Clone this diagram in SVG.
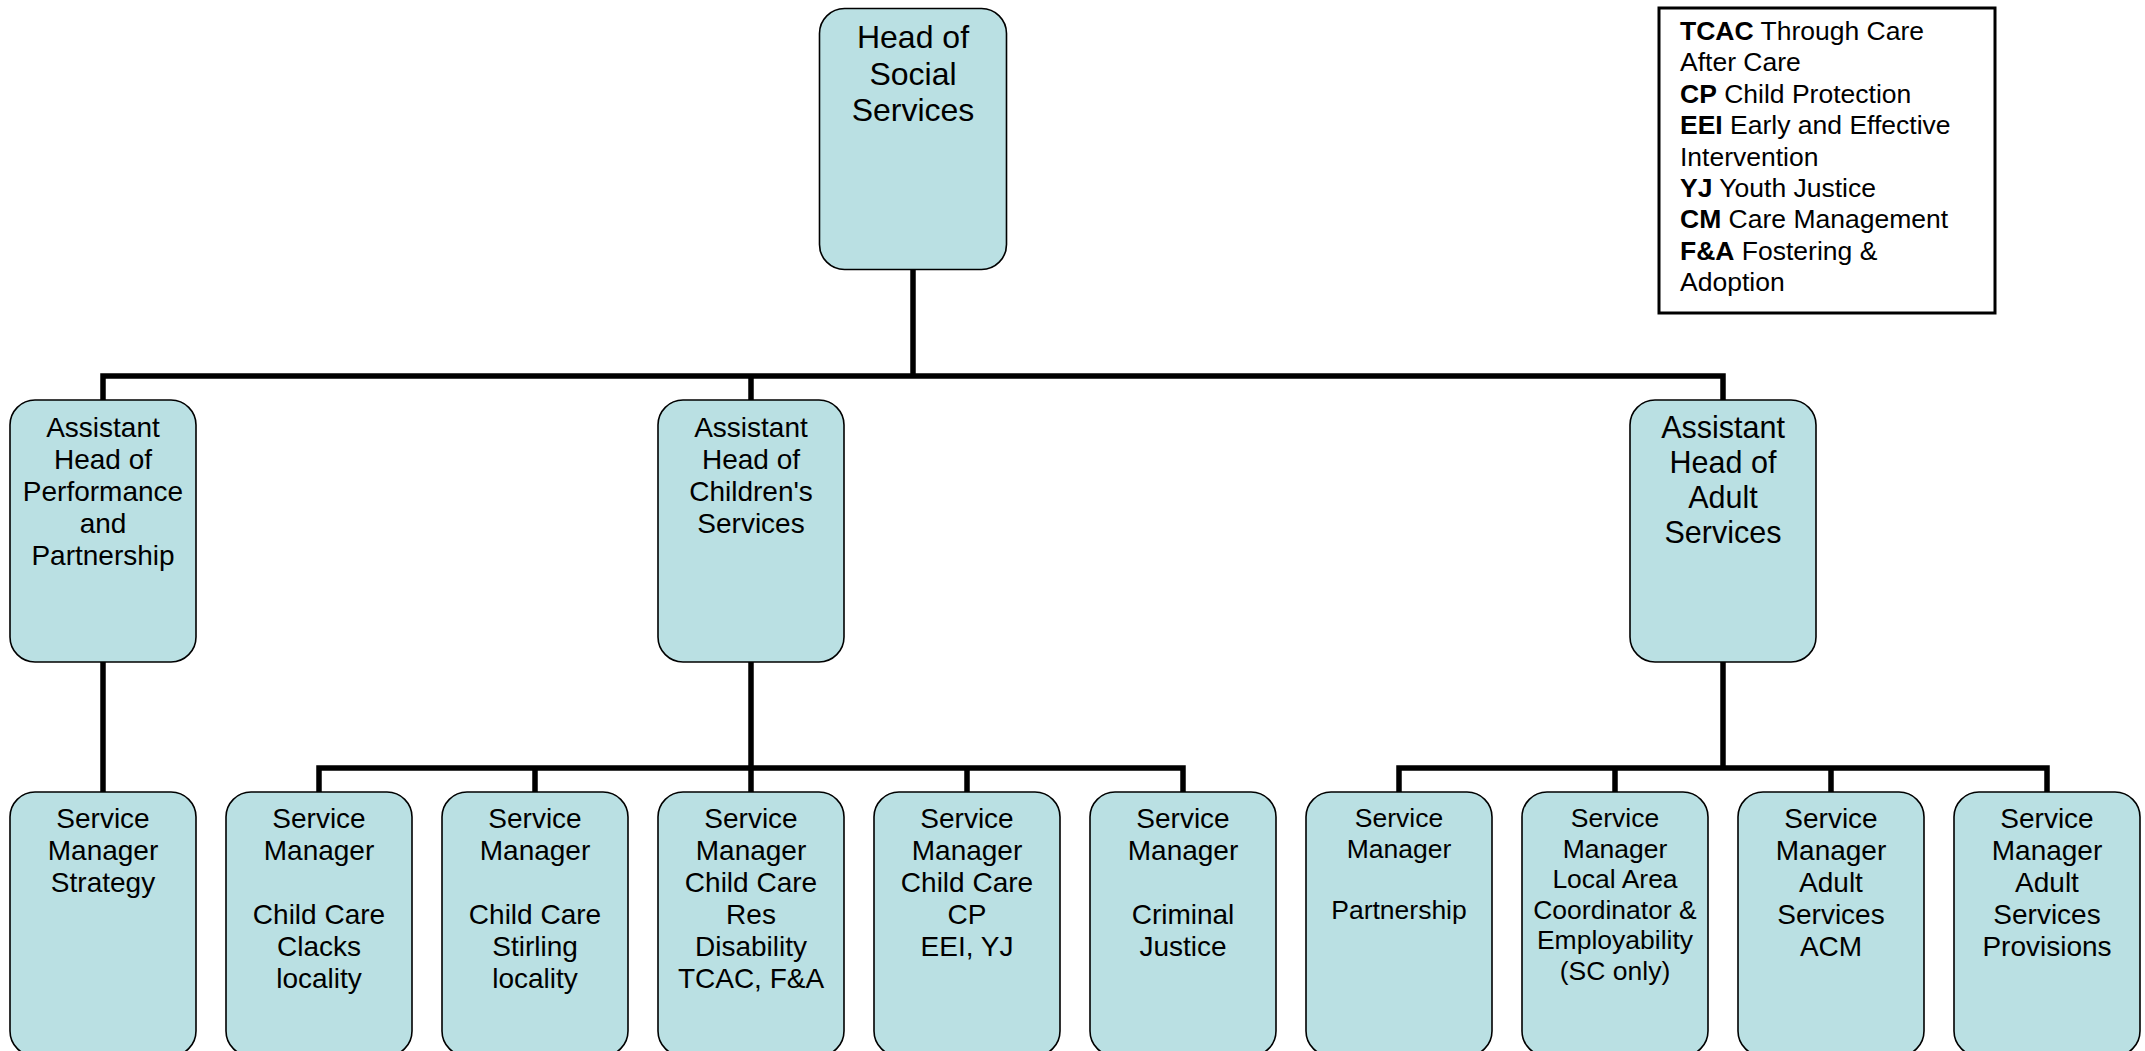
<svg xmlns="http://www.w3.org/2000/svg" width="2145" height="1051" viewBox="0 0 2145 1051">
<style>
.box{fill:#BAE0E3;stroke:#000;stroke-width:1.6}
.t{font-family:"Liberation Sans",Arial,sans-serif;font-size:28px;fill:#000;text-anchor:middle}
.big{font-size:32px}
.mid{font-size:30.5px}
.sm{font-size:26.5px}
.conn{fill:none;stroke:#000;stroke-width:5.5;stroke-linejoin:miter;stroke-linecap:butt}
.leg{font-family:"Liberation Sans",Arial,sans-serif;font-size:26.5px;fill:#000}
.b{font-weight:bold}
</style>
<rect width="2145" height="1051" fill="#fff"/>
<g id="connectors">
<path class="conn" d="M913,269 V376"/>
<path class="conn" d="M103,400 V376 H1723 V400"/>
<path class="conn" d="M751,376 V400"/>
<path class="conn" d="M103,662 V792"/>
<path class="conn" d="M751,662 V768"/>
<path class="conn" d="M319,792 V768 H1183 V792"/>
<path class="conn" d="M535,768 V792 M751,768 V792 M967,768 V792"/>
<path class="conn" d="M1723,662 V768"/>
<path class="conn" d="M1399,792 V768 H2047 V792"/>
<path class="conn" d="M1615,768 V792 M1831,768 V792"/>
</g>
<g id="head">
<rect class="box" x="819.5" y="8.5" width="187" height="261" rx="25"/>
<text class="t big"><tspan x="913" y="48">Head of</tspan><tspan x="913" y="84.5">Social</tspan><tspan x="913" y="121">Services</tspan></text>
</g>
<g id="ah-performance">
<rect class="box" x="10" y="400" width="186" height="262" rx="25"/>
<text class="t"><tspan x="103" y="437">Assistant</tspan><tspan x="103" y="469">Head of</tspan><tspan x="103" y="501">Performance</tspan><tspan x="103" y="533">and</tspan><tspan x="103" y="565">Partnership</tspan></text>
</g>
<g id="ah-children">
<rect class="box" x="658" y="400" width="186" height="262" rx="25"/>
<text class="t"><tspan x="751" y="437">Assistant</tspan><tspan x="751" y="469">Head of</tspan><tspan x="751" y="501">Children's</tspan><tspan x="751" y="533">Services</tspan></text>
</g>
<g id="ah-adult">
<rect class="box" x="1630" y="400" width="186" height="262" rx="25"/>
<text class="t mid"><tspan x="1723" y="438">Assistant</tspan><tspan x="1723" y="473">Head of</tspan><tspan x="1723" y="508">Adult</tspan><tspan x="1723" y="543">Services</tspan></text>
</g>
<g id="sm-strategy">
<rect class="box" x="10" y="792" width="186" height="264" rx="25"/>
<text class="t"><tspan x="103" y="828">Service</tspan><tspan x="103" y="860">Manager</tspan><tspan x="103" y="892">Strategy</tspan></text>
</g>
<g id="sm-clacks">
<rect class="box" x="226" y="792" width="186" height="264" rx="25"/>
<text class="t"><tspan x="319" y="828">Service</tspan><tspan x="319" y="860">Manager</tspan><tspan x="319" y="924">Child Care</tspan><tspan x="319" y="956">Clacks</tspan><tspan x="319" y="988">locality</tspan></text>
</g>
<g id="sm-stirling">
<rect class="box" x="442" y="792" width="186" height="264" rx="25"/>
<text class="t"><tspan x="535" y="828">Service</tspan><tspan x="535" y="860">Manager</tspan><tspan x="535" y="924">Child Care</tspan><tspan x="535" y="956">Stirling</tspan><tspan x="535" y="988">locality</tspan></text>
</g>
<g id="sm-res">
<rect class="box" x="658" y="792" width="186" height="264" rx="25"/>
<text class="t"><tspan x="751" y="828">Service</tspan><tspan x="751" y="860">Manager</tspan><tspan x="751" y="892">Child Care</tspan><tspan x="751" y="924">Res</tspan><tspan x="751" y="956">Disability</tspan><tspan x="751" y="988">TCAC, F&amp;A</tspan></text>
</g>
<g id="sm-cp">
<rect class="box" x="874" y="792" width="186" height="264" rx="25"/>
<text class="t"><tspan x="967" y="828">Service</tspan><tspan x="967" y="860">Manager</tspan><tspan x="967" y="892">Child Care</tspan><tspan x="967" y="924">CP</tspan><tspan x="967" y="956">EEI, YJ</tspan></text>
</g>
<g id="sm-criminal">
<rect class="box" x="1090" y="792" width="186" height="264" rx="25"/>
<text class="t"><tspan x="1183" y="828">Service</tspan><tspan x="1183" y="860">Manager</tspan><tspan x="1183" y="924">Criminal</tspan><tspan x="1183" y="956">Justice</tspan></text>
</g>
<g id="sm-partnership">
<rect class="box" x="1306" y="792" width="186" height="264" rx="25"/>
<text class="t sm"><tspan x="1399" y="827">Service</tspan><tspan x="1399" y="857.5">Manager</tspan><tspan x="1399" y="918.5">Partnership</tspan></text>
</g>
<g id="sm-local-area">
<rect class="box" x="1522" y="792" width="186" height="264" rx="25"/>
<text class="t sm"><tspan x="1615" y="827">Service</tspan><tspan x="1615" y="857.5">Manager</tspan><tspan x="1615" y="888">Local Area</tspan><tspan x="1615" y="918.5">Coordinator &amp;</tspan><tspan x="1615" y="949">Employability</tspan><tspan x="1615" y="979.5">(SC only)</tspan></text>
</g>
<g id="sm-acm">
<rect class="box" x="1738" y="792" width="186" height="264" rx="25"/>
<text class="t"><tspan x="1831" y="828">Service</tspan><tspan x="1831" y="860">Manager</tspan><tspan x="1831" y="892">Adult</tspan><tspan x="1831" y="924">Services</tspan><tspan x="1831" y="956">ACM</tspan></text>
</g>
<g id="sm-provisions">
<rect class="box" x="1954" y="792" width="186" height="264" rx="25"/>
<text class="t"><tspan x="2047" y="828">Service</tspan><tspan x="2047" y="860">Manager</tspan><tspan x="2047" y="892">Adult</tspan><tspan x="2047" y="924">Services</tspan><tspan x="2047" y="956">Provisions</tspan></text>
</g>
<g id="legend">
<rect x="1659" y="8" width="336" height="305" fill="#fff" stroke="#000" stroke-width="3"/>
<text class="leg">
<tspan x="1680" y="40"><tspan class="b">TCAC</tspan> Through Care</tspan>
<tspan x="1680" y="71.4">After Care</tspan>
<tspan x="1680" y="102.8"><tspan class="b">CP</tspan> Child Protection</tspan>
<tspan x="1680" y="134.2"><tspan class="b">EEI</tspan> Early and Effective</tspan>
<tspan x="1680" y="165.6">Intervention</tspan>
<tspan x="1680" y="197"><tspan class="b">YJ</tspan> Youth Justice</tspan>
<tspan x="1680" y="228.4"><tspan class="b">CM</tspan> Care Management</tspan>
<tspan x="1680" y="259.8"><tspan class="b">F&amp;A</tspan> Fostering &amp;</tspan>
<tspan x="1680" y="291.2">Adoption</tspan>
</text>
</g>
</svg>
